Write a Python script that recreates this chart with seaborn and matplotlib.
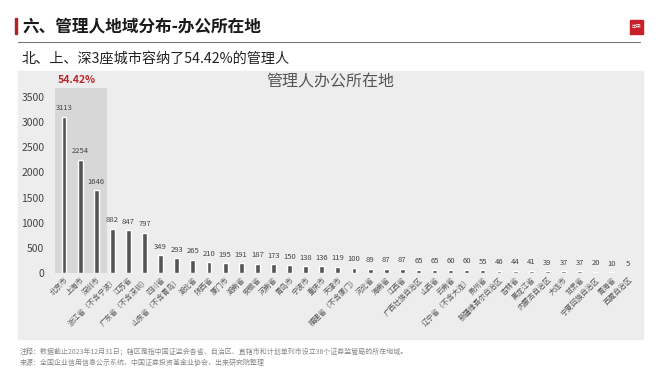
import matplotlib
matplotlib.use("Agg")
import matplotlib.pyplot as plt
import seaborn as sns
import pandas as pd
from matplotlib.patches import Rectangle

# data
regions = [
    "北京市", "上海市", "深圳市", "浙江省（不含宁波）", "江苏省", "广东省（不含深圳）",
    "四川省", "山东省（不含青岛）", "湖北省", "陕西省", "厦门市", "湖南省",
    "安徽省", "河南省", "青岛市", "宁波市", "重庆市", "天津市",
    "福建省（不含厦门）", "河北省", "海南省", "江西省", "广西壮族自治区", "山西省",
    "云南省", "辽宁省（不含大连）", "贵州省", "新疆维吾尔自治区", "吉林省", "黑龙江省",
    "内蒙古自治区", "大连市", "甘肃省", "宁夏回族自治区", "青海省", "西藏自治区",
]
counts = [
    3113, 2254, 1646, 882, 847, 797,
    349, 293, 265, 210, 195, 191,
    187, 173, 150, 138, 136, 119,
    100, 89, 87, 87, 65, 65,
    60, 60, 55, 46, 44, 41,
    39, 37, 37, 20, 10, 5,
]
y_ticks = [0, 500, 1000, 1500, 2000, 2500, 3000, 3500]
top3_share = "54.42%"

sns.set_theme(style="white")
plt.rcParams["font.family"] = ["Noto Sans CJK SC", "DejaVu Sans"]

df = pd.DataFrame({"region": regions, "count": counts})

fig = plt.figure(figsize=(6.6, 3.72), dpi=100)
fig.patch.set_facecolor("white")

# header
fig.patches.append(Rectangle((15 / 660, 1 - 34 / 372), 2 / 660, 16 / 372,
                             transform=fig.transFigure, color="#b0212a"))
fig.text(22 / 660, 1 - 26 / 372, "六、管理人地域分布-办公所在地", fontsize=12,
         fontweight="bold", color="#1a1a1a", va="center", ha="left")
fig.patches.append(Rectangle((630 / 660, 1 - 34 / 372), 13 / 660, 14 / 372,
                             transform=fig.transFigure, color="#c8202a"))
fig.text(636.5 / 660, 1 - 27 / 372, "出来", fontsize=3.5, color="white",
         ha="center", va="center")
fig.add_artist(plt.Line2D([18 / 660, 640 / 660], [1 - 42 / 372, 1 - 42 / 372],
                          color="#777777", lw=0.8, transform=fig.transFigure))
fig.text(22 / 660, 1 - 59 / 372, "北、上、深3座城市容纳了54.42%的管理人", fontsize=10.2,
         color="#222222", va="center", ha="left")

# gray panel behind the axes
fig.patches.append(Rectangle((18 / 660, 1 - 339 / 372), 625 / 660, 268 / 372,
                             transform=fig.transFigure, color="#ededed", zorder=-10))

ax = fig.add_axes([50 / 660, 1 - 273 / 372, 590 / 660, 185 / 372])
ax.set_zorder(5)
ax.set_facecolor("none")
ax.axvspan(-0.56, 2.65, color="#d7d7d7", zorder=0, lw=0)
sns.barplot(data=df, x="region", y="count", color="#555555", width=0.3,
            saturation=1, ax=ax, zorder=2)
for i, v in enumerate(counts):
    ax.text(i, v + 90, str(v), ha="center", va="bottom", fontsize=5.5, color="#444444")

ax.set_xlim(-0.87, 35.75)
ax.set_ylim(0, 3680)
ax.set_yticks(y_ticks)
ax.set_yticklabels([str(t) for t in y_ticks], fontsize=7.5, color="#444444")
ax.set_xticks(range(len(regions)))
ax.set_xticklabels(regions, rotation=45, ha="right", rotation_mode="anchor",
                   fontsize=5.2, color="#555555")
ax.tick_params(axis="both", length=0, pad=2)
ax.tick_params(axis="y", pad=4)
ax.set_xlabel("")
ax.set_ylabel("")
for s in ax.spines.values():
    s.set_visible(False)

fig.text(330 / 660, 1 - 82 / 372, "管理人办公所在地", fontsize=11.5, color="#555555",
         ha="center", va="center", zorder=6)
fig.text(77 / 660, 1 - 80 / 372, top3_share, fontsize=7.5, fontweight="bold",
         color="#c0262d", ha="center", va="center", zorder=6)

# footnotes
fig.text(20 / 660, 1 - 351 / 372,
         "注释：数据截止2023年12月31日；辖区是指中国证监会各省、自治区、直辖市和计划单列市设立36个证券监管局的所在地域。",
         fontsize=5, color="#888888", ha="left", va="center")
fig.text(20 / 660, 1 - 363 / 372,
         "来源：全国企业信用信息公示系统，中国证券投资基金业协会，出来研究院整理",
         fontsize=5, color="#888888", ha="left", va="center")

fig.savefig("out.png", dpi=100, facecolor="white")
